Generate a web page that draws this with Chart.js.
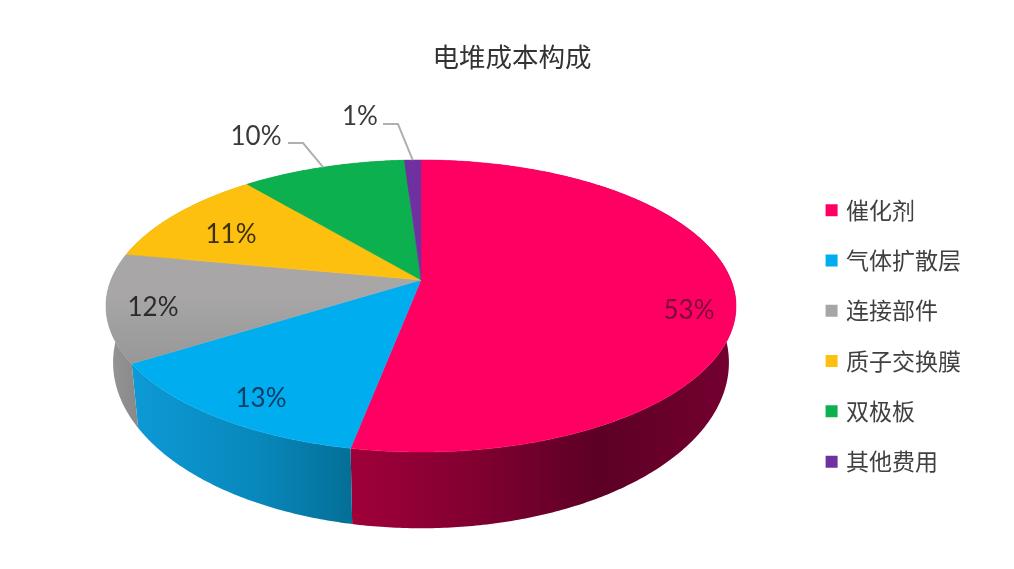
<!DOCTYPE html>
<html>
<head>
<meta charset="utf-8">
<title>电堆成本构成</title>
<script src="https://cdn.jsdelivr.net/npm/chart.js@4"></script>
<style>
    html, body { margin: 0; padding: 0; background: #fff; }
    canvas { display: block; }
</style>
</head>
<body>
<canvas id="stackCost" width="1014" height="569"></canvas>
<script>
// data
const categories = ['催化剂', '气体扩散层', '连接部件', '质子交换膜', '双极板', '其他费用'];
const shares = [53, 13, 12, 11, 10, 1];

// colours
const sliceColors = ['#ff0062', '#00adef', '#a6a6a6', '#fdc00f', '#0cb04f', '#7030a0'];
const sideStops = [
    [[352, '#a00039'], [480, '#800030'], [600, '#5c0026'], [735, '#75002f']],
    [[132, '#0d9ad6'], [260, '#0887bb'], [352, '#046f96']],
    [[107, '#969696'], [135, '#8a8a8a']],
    [[0, '#c79600']],
    [[0, '#08863c']],
    [[0, '#552380']]
];
const labelColors = ['#7a0a38', '#0b3c66', '#2b2b2b', '#3b3010', '#3a3a3a', '#3a3a3a'];

// layout of the tilted pie: top face and bottom rim, perspective factor
const tilt = 0.178;
const topFace = { cx: 421, cy: 280, rx: 310, ry: 141.4 };
const bottomRim = { cx: 421, cy: 333, rx: 303, ry: 160.5 };
const labelSpots = [[689, 311], [261, 399], [153, 308], [231, 235], [256, 137], [360, 117]];
// leader lines only for the slices labelled outside the pie: label side elbow
const leaderElbows = { 4: [[288, 143], [303, 143]], 5: [[383, 124], [398, 124]] };

// project a point of the unit circle to the picture
function project(face, angle, r) {
    const x = Math.cos(angle) * r;
    const y = Math.sin(angle) * r;
    const w = 1 - tilt * y;
    return [face.cx + face.rx * x / w, face.cy + face.ry * y / w];
}

function tracePoints(ctx, face, a0, a1, first) {
    const steps = Math.max(2, Math.ceil(Math.abs(a1 - a0) / 0.01));
    for (let i = 0; i <= steps; i++) {
        const p = project(face, a0 + (a1 - a0) * i / steps, 1);
        if (first && i === 0) ctx.moveTo(p[0], p[1]); else ctx.lineTo(p[0], p[1]);
    }
}

const tiltedPie = {
    id: 'tiltedPie',
    // the arcs are drawn here, from the angles chart.js worked out
    beforeDatasetsDraw(chart) {
        const ctx = chart.ctx;
        const arcs = chart.getDatasetMeta(0).data;
        ctx.save();

        // side wall first, top face goes over it
        arcs.forEach((arc, i) => {
            const stops = sideStops[i];
            const grad = ctx.createLinearGradient(stops[0][0], 0, stops[stops.length - 1][0] + 1, 0);
            const span = stops[stops.length - 1][0] + 1 - stops[0][0];
            stops.forEach(s => grad.addColorStop((s[0] - stops[0][0]) / span, s[1]));
            ctx.fillStyle = grad;
            ctx.beginPath();
            tracePoints(ctx, topFace, arc.startAngle, arc.endAngle, true);
            tracePoints(ctx, bottomRim, arc.endAngle, arc.startAngle, false);
            ctx.closePath();
            ctx.fill();
        });

        arcs.forEach((arc, i) => {
            let fill = sliceColors[i];
            if (i === 2) {
                // the grey slice goes a little darker towards its lip
                fill = ctx.createLinearGradient(0, 295, 0, 362);
                fill.addColorStop(0, '#a8a6a6');
                fill.addColorStop(1, '#989898');
            }
            ctx.fillStyle = fill;
            ctx.strokeStyle = fill;
            ctx.lineWidth = 0.5;
            ctx.beginPath();
            ctx.moveTo(topFace.cx, topFace.cy);
            tracePoints(ctx, topFace, arc.startAngle, arc.endAngle, false);
            ctx.closePath();
            ctx.fill();
            ctx.stroke();
        });

        // leader lines
        ctx.strokeStyle = '#b0b0b0';
        ctx.lineWidth = 2;
        Object.keys(leaderElbows).forEach(k => {
            const arc = arcs[k];
            const end = project(topFace, (arc.startAngle + arc.endAngle) / 2, 1);
            const elbow = leaderElbows[k];
            ctx.beginPath();
            ctx.moveTo(elbow[0][0], elbow[0][1]);
            ctx.lineTo(elbow[1][0], elbow[1][1]);
            ctx.lineTo(end[0], end[1]);
            ctx.stroke();
        });

        // percent labels
        ctx.font = '26px Lato';
        ctx.textAlign = 'center';
        ctx.textBaseline = 'middle';
        shares.forEach((v, i) => {
            ctx.fillStyle = labelColors[i];
            ctx.fillText(v + '%', labelSpots[i][0], labelSpots[i][1]);
        });

        ctx.restore();
        return false;
    }
};

new Chart(document.getElementById('stackCost').getContext('2d'), {
    type: 'pie',
    data: {
        labels: categories,
        datasets: [{
            data: shares,
            backgroundColor: sliceColors,
            borderColor: sliceColors,
            borderWidth: 6 // widens the legend boxes, arcs are drawn by the plugin
        }]
    },
    options: {
        responsive: false,
        animation: false,
        layout: { padding: { left: 53, right: 42.9, top: 0, bottom: 0 } },
        plugins: {
            title: {
                display: true,
                text: '电堆成本构成',
                color: '#333333',
                font: { family: '"Noto Sans CJK SC"', size: 26.5, weight: 'normal' },
                padding: { top: 41, bottom: 30 }
            },
            legend: {
                position: 'right',
                fullSize: false,
                labels: {
                    boxWidth: 6,
                    boxHeight: 6,
                    padding: 27.3,
                    color: '#404040',
                    font: { family: '"Noto Sans CJK SC"', size: 23 }
                }
            },
            tooltip: { enabled: false }
        }
    },
    plugins: [tiltedPie]
});
</script>
</body>
</html>
